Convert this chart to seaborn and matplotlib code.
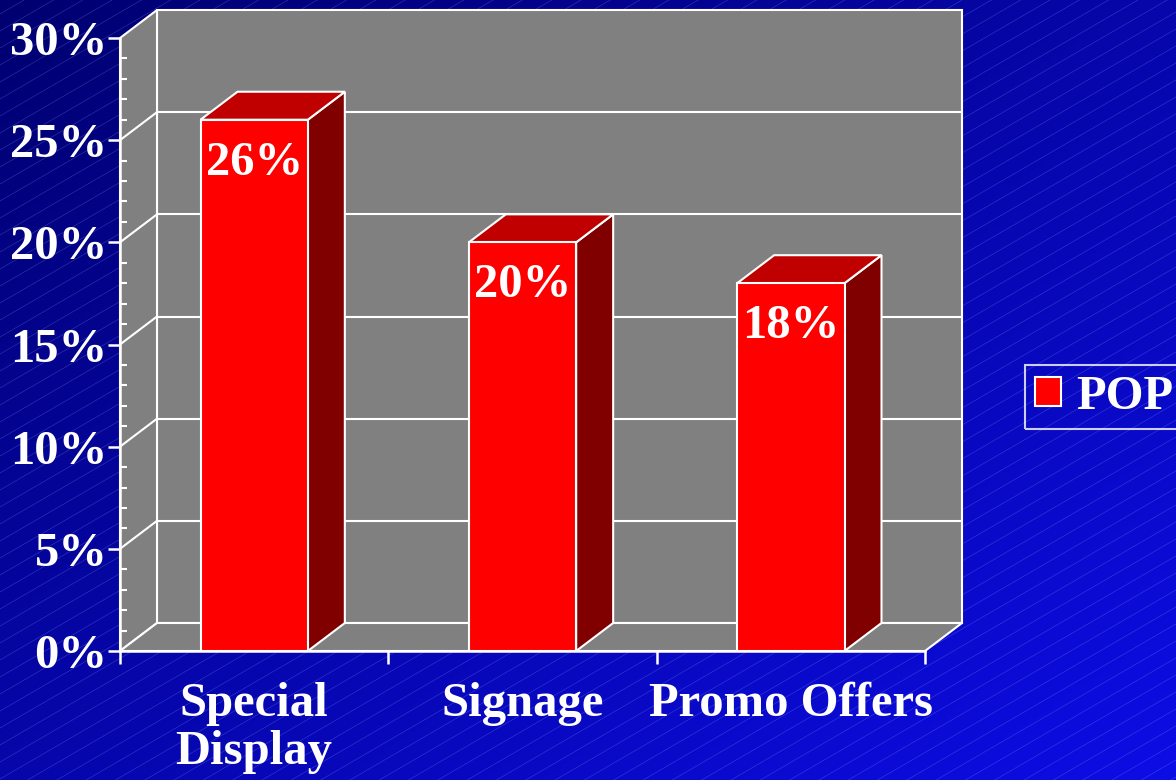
import numpy as np
import pandas as pd
import seaborn as sns
import matplotlib.pyplot as plt
from matplotlib.patches import Polygon, Patch
from matplotlib.ticker import MultipleLocator, FixedLocator

categories = ["Special\nDisplay", "Signage", "Promo Offers"]
values = [26, 20, 18]
bar_labels = ["26%", "20%", "18%"]
y_ticks = [0, 5, 10, 15, 20, 25, 30]
y_tick_labels = ["0%", "5%", "10%", "15%", "20%", "25%", "30%"]
series_name = "POP"

sns.set_style("white")
plt.rcParams["font.family"] = ["Liberation Serif", "DejaVu Serif"]
plt.rcParams["font.weight"] = "bold"
FS = 35

W, H = 1176, 780
fig = plt.figure(figsize=(W / 100, H / 100), dpi=100)

# background: diagonal blue gradient with thin slanted lines
bg = fig.add_axes([0, 0, 1, 1], zorder=-5)
gx, gy = np.meshgrid(np.linspace(0, 1, 300), np.linspace(0, 1, 200))
t = (gx + gy) / 2
img = np.zeros((200, 300, 3))
img[..., 0] = 0.05 * t
img[..., 1] = 0.05 * t
img[..., 2] = 0.44 + 0.46 * t
bg.imshow(img, extent=[0, W, H, 0], aspect="auto")
xs = np.array([0, W])
for c in np.arange(-900, H + 20, 17):
    bg.plot(xs, H - c - 0.58 * xs, color=(0.55, 0.62, 1.0), lw=0.4, alpha=0.35)
bg.set_xlim(0, W)
bg.set_ylim(H, 0)
bg.axis("off")

ax = fig.add_axes([120 / W, 129 / H, 805 / W, 613 / H])
ax.patch.set_alpha(0)
df = pd.DataFrame({"cat": categories, "val": values})
sns.barplot(data=df, x="cat", y="val", width=0.4, color="#ff0000",
            saturation=1, edgecolor="white", linewidth=1.5, ax=ax)
bars = list(ax.patches)

ax.set_xlim(-0.5, 2.5)
ax.set_ylim(0, 30)
dx = 37 / (805 / 3)
dy = 28 / (613 / 30)
x0, x1 = -0.5, 2.5
gray = "#808080"
wkw = dict(edgecolor="white", lw=1.5, clip_on=False)

# walls and floor
ax.add_patch(Polygon([(x0 + dx, dy), (x1 + dx, dy), (x1 + dx, 30 + dy), (x0 + dx, 30 + dy)],
                     facecolor=gray, zorder=0.5, **wkw))
ax.add_patch(Polygon([(x0, 0), (x0, 30), (x0 + dx, 30 + dy), (x0 + dx, dy)],
                     facecolor=gray, zorder=0.5, **wkw))
ax.add_patch(Polygon([(x0, 0), (x1, 0), (x1 + dx, dy), (x0 + dx, dy)],
                     facecolor=gray, zorder=0.5, **wkw))
for yv in y_ticks[1:-1]:
    ax.plot([x0 + dx, x1 + dx], [yv + dy, yv + dy], color="white", lw=1.5, zorder=0.6, clip_on=False)
    ax.plot([x0, x0 + dx], [yv, yv + dy], color="white", lw=1.5, zorder=0.6, clip_on=False)

# 3D bar top and side faces
for b, lab in zip(bars, bar_labels):
    bx0 = b.get_x()
    bx1 = bx0 + b.get_width()
    h = b.get_height()
    b.set_zorder(3)
    ax.add_patch(Polygon([(bx1, 0), (bx1, h), (bx1 + dx, h + dy), (bx1 + dx, dy)],
                         facecolor="#800000", zorder=2, **wkw))
    ax.add_patch(Polygon([(bx0, h), (bx1, h), (bx1 + dx, h + dy), (bx0 + dx, h + dy)],
                         facecolor="#c00000", zorder=2, **wkw))
    ax.annotate(lab, (bx0 + b.get_width() / 2, h), xytext=(0, -31), textcoords="offset points",
                ha="center", va="center", color="white", fontsize=FS, fontweight="bold", zorder=4)

sns.despine(ax=ax, top=True, right=True)
for s in ["left", "bottom"]:
    ax.spines[s].set_color("white")
    ax.spines[s].set_linewidth(1.8)
    ax.spines[s].set_zorder(5)

ax.set_yticks(y_ticks)
ax.set_yticklabels(y_tick_labels)
ax.yaxis.set_minor_locator(MultipleLocator(1))
ax.tick_params(axis="y", which="major", direction="out", length=9, width=1.8, color="white",
               labelcolor="white", labelsize=FS, pad=0, left=True)
ax.tick_params(axis="y", which="minor", direction="in", length=5, width=1.5, color="white", left=True)
ax.set_xticks([0, 1, 2])
ax.set_xticklabels(categories, linespacing=1.12)
ax.xaxis.set_minor_locator(FixedLocator([-0.5, 0.5, 1.5, 2.5]))
ax.tick_params(axis="x", which="major", length=0, labelcolor="white", labelsize=FS, pad=22)
ax.tick_params(axis="x", which="minor", direction="out", length=9, width=1.8, color="white", bottom=True)
ax.set_xlabel("")
ax.set_ylabel("")
for tl in ax.get_xticklabels() + ax.get_yticklabels():
    tl.set_fontweight("bold")

handle = Patch(facecolor="#ff0000", edgecolor="white", linewidth=1.5)
leg = fig.legend([handle], [series_name], loc="center left",
                 bbox_to_anchor=(1025 / W, 1 - 397 / H), fontsize=FS,
                 frameon=True, facecolor="none", edgecolor="white", fancybox=False,
                 handlelength=0.55, handleheight=0.55, handletextpad=0.3,
                 borderpad=0.2, borderaxespad=0)
leg.get_frame().set_linewidth(1.5)
for txt in leg.get_texts():
    txt.set_color("white")
    txt.set_fontweight("bold")

fig.savefig("out.png", dpi=100)
